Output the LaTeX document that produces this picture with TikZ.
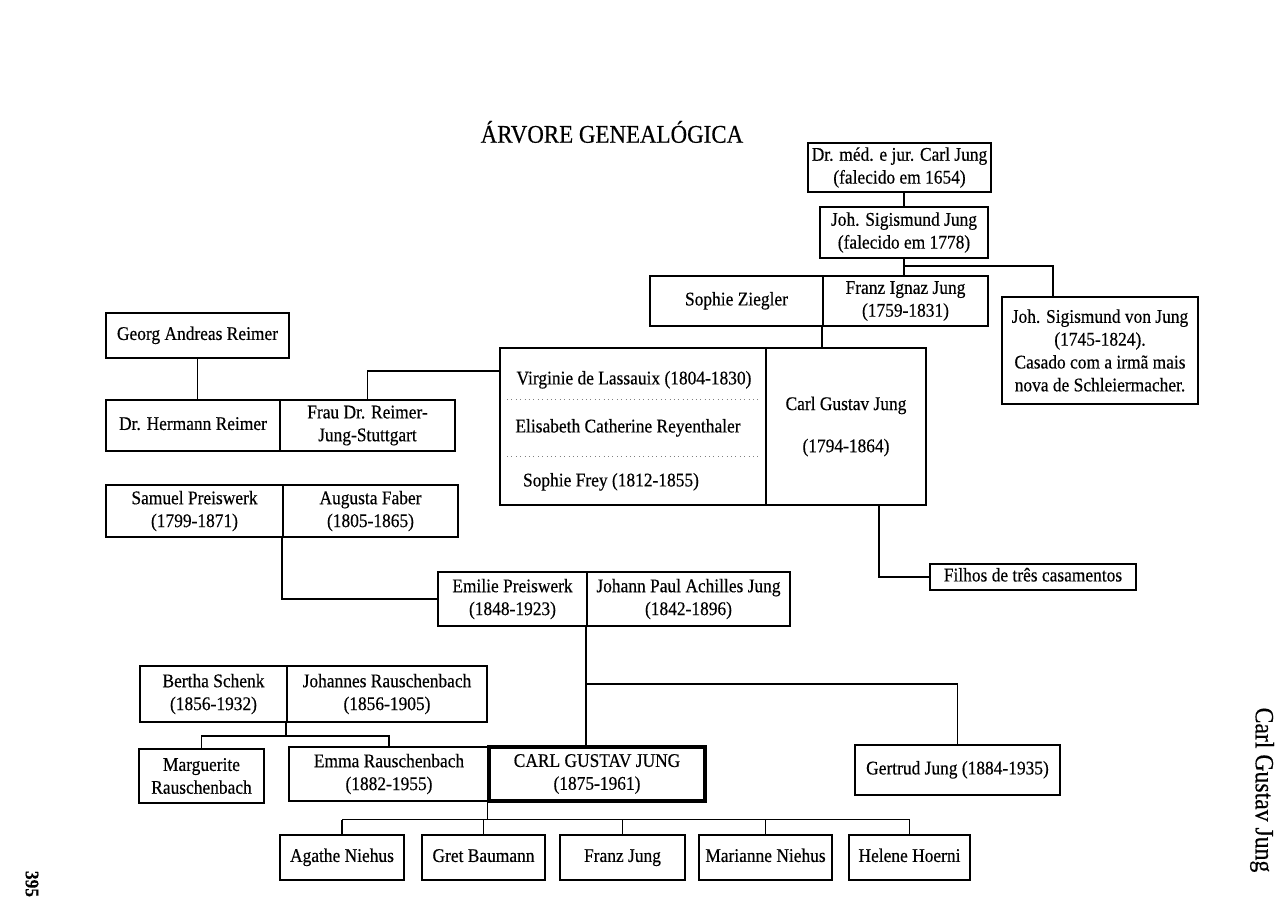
\documentclass[tikz,border=0pt]{standalone}
\usepackage{fontspec}
\setmainfont[FakeStretch=0.9,FakeBold=0.4]{Liberation Serif}

\begin{document}
\begin{tikzpicture}[x=0.2mm,y=-0.2mm,
        person/.style={draw,line width=1.1pt,inner sep=0pt,align=center,font=\fontsize{11}{13}\selectfont},
        ego/.style={person,line width=1.8pt},
        one/.style={text height=1.6ex,text depth=0.5ex},
        wh/.style 2 args={minimum width=#1*0.2mm,minimum height=#2*0.2mm},
        plain/.style={inner sep=0pt,font=\fontsize{11}{13}\selectfont,one},
        link/.style={line width=1pt},
        sep/.style={dotted,gray,line width=0.5pt}]

    \useasboundingbox (0,0) rectangle (1287,921);

    \node[font=\fontsize{14.5}{14.5}\selectfont] (title) at (612,132) {ÁRVORE GENEALÓGICA};

    % Jung side
    \node[person,wh={183}{49}] (carlA) at (899.5,167.5) {Dr. méd. e jur. Carl Jung\\(falecido em 1654)};
    \node[person,wh={168}{51}] (sigA) at (904,232.5) {Joh. Sigismund Jung\\(falecido em 1778)};
    \node[person,one,wh={173}{50}] (sophieZ) at (736.5,301) {Sophie Ziegler};
    \node[person,wh={165}{50}] (franz) at (905.5,301) {Franz Ignaz Jung\\(1759-1831)};
    \node[person,wh={196}{107}] (sigvon) at (1100,350.5) {Joh. Sigismund von Jung\\(1745-1824).\\Casado com a irmã mais\\nova de Schleiermacher.};
    \node[person,wh={266}{157}] (wives) at (633,426.5) {};
    \node[person,wh={160}{157}] (cgA) at (846,426.5) {Carl Gustav Jung\\[11pt](1794-1864)};
    \node[plain] (virginie) at (634,380) {Virginie de Lassauix (1804-1830)};
    \node[plain] (elisabeth) at (628,428) {Elisabeth Catherine Reyenthaler};
    \node[plain] (sophieF) at (611,482) {Sophie Frey (1812-1855)};
    \draw[sep] (507,399) -- (760,399);
    \draw[sep] (507,456) -- (760,456);
    \node[person,one,wh={206}{26}] (filhos) at (1033,577) {Filhos de três casamentos};

    % Reimer and Preiswerk
    \node[person,one,wh={183}{45}] (georg) at (197.5,335.5) {Georg Andreas Reimer};
    \node[person,one,wh={174}{51}] (hermann) at (193,425.5) {Dr. Hermann Reimer};
    \node[person,wh={175}{51}] (frau) at (367.5,425.5) {Frau Dr. Reimer-\\Jung-Stuttgart};
    \node[person,wh={177}{52}] (samuel) at (194.5,511) {Samuel Preiswerk\\(1799-1871)};
    \node[person,wh={175}{52}] (augusta) at (370.5,511) {Augusta Faber\\(1805-1865)};
    \node[person,wh={149}{54}] (emilie) at (512.5,599) {Emilie Preiswerk\\(1848-1923)};
    \node[person,wh={203}{54}] (johann) at (688.5,599) {Johann Paul Achilles Jung\\(1842-1896)};

    % Rauschenbach
    \node[person,wh={147}{56}] (bertha) at (213.5,694) {Bertha Schenk\\(1856-1932)};
    \node[person,wh={200}{56}] (johannes) at (387,694) {Johannes Rauschenbach\\(1856-1905)};
    \node[person,wh={125}{54}] (marguerite) at (201.5,776) {Marguerite\\Rauschenbach};
    \node[person,wh={200}{54}] (emma) at (389,774) {Emma Rauschenbach\\(1882-1955)};
    \node[ego,wh={216}{54}] (cgj) at (597,774) {CARL GUSTAV JUNG\\(1875-1961)};
    \node[person,one,wh={205}{50}] (gertrud) at (957.5,770) {Gertrud Jung (1884-1935)};

    % children
    \node[person,one,wh={124}{45}] (agathe) at (342,857.5) {Agathe Niehus};
    \node[person,one,wh={123}{45}] (gret) at (483.5,857.5) {Gret Baumann};
    \node[person,one,wh={125}{45}] (franzJ) at (622.5,857.5) {Franz Jung};
    \node[person,one,wh={133}{45}] (marianne) at (765.5,857.5) {Marianne Niehus};
    \node[person,one,wh={121}{45}] (helene) at (909.5,857.5) {Helene Hoerni};

    \node[rotate=-90,font=\fontsize{15}{15}\selectfont] (runhead) at (1262,790) {Carl Gustav Jung};
    \node[rotate=-90,font=\fontsize{11}{11}\selectfont\bfseries] (pagenum) at (32,884) {395};

    % connectors
    \coordinate (vjtop) at (1053,297);
    \draw[link] (sigA.north) -- (sigA.north |- carlA.south);
    \draw[link] (sigA.south) -- (sigA.south |- franz.north);
    \draw[link] (sigA.south) -- ++(0,7) -| (vjtop);
    \draw[link] (franz.south west) -- (franz.south west |- cgA.north);
    \draw[link] ([xshift=6.6mm]cgA.south) |- (filhos.west);
    \draw[link] (georg.south) -- (georg.south |- hermann.north);
    \draw[link] (frau.north) |- ([yshift=-4.8mm]wives.north west);
    \draw[link] (augusta.south west) |- (emilie.west);
    \draw[link] (johannes.south west) -- ++(0,13) coordinate (rb);
    \draw[link] (marguerite.north) |- (rb) -| (emma.north);
    \draw[link] (johann.south west) -- (johann.south west |- cgj.north);
    \draw[link] (johann.south west) -- ++(0,57) -| (gertrud.north);
    \draw[link] (cgj.south west) -- ++(0,17) coordinate (kids);
    \draw[link] (agathe.north |- kids) -- (helene.north |- kids);
    \foreach \k in {agathe,gret,franzJ,marianne,helene}
        \draw[link] (\k.north) -- (\k.north |- kids);
\end{tikzpicture}
\end{document}
